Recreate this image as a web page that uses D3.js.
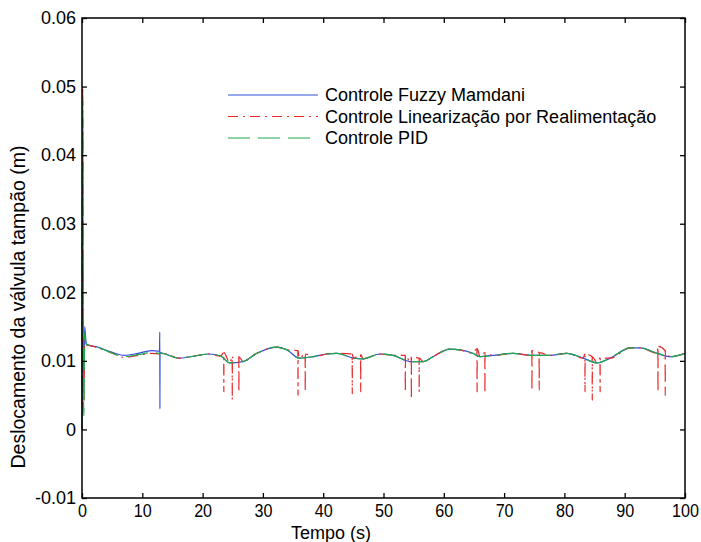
<!DOCTYPE html>
<html>
<head>
<meta charset="utf-8">
<script src="https://cdn.jsdelivr.net/npm/d3@7"></script>
<style>
  body { margin: 0; background: #fff; }
  svg text { font-family: "Liberation Sans", Arial, sans-serif; fill: #000; }
</style>
</head>
<body>
<div id="chart"></div>
<script>
// valores
var tempo = [0, 0.05, 0.12, 0.2, 0.3, 0.45, 0.7, 1, 2.6, 4.8, 7, 9.3, 11.5, 12.85, 13.8, 16, 18, 21, 23, 24.5, 26.7, 29, 32.3, 34, 36, 38.3, 40.6, 42.3, 45, 46.6, 49.4, 51.6, 54.4, 56.6, 58.2, 61, 62.7, 64.8, 66, 68.2, 71.5, 74.5, 77.6, 80.4, 83.1, 85.4, 87.6, 90.9, 92.5, 95.4, 97.5, 100];

var fuzzy = [0, 0.02, 0.045, 0.012, 0.007, 0.015, 0.0125, 0.0123, 0.0120, 0.0113, 0.0108, 0.0111, 0.0115, 0.0114, 0.0110, 0.0104, 0.0106, 0.0110, 0.0107, 0.0097, 0.0099, 0.0111, 0.0120, 0.0116, 0.0104, 0.0106, 0.0110, 0.0111, 0.0104, 0.0103, 0.0110, 0.0108, 0.0099, 0.0099, 0.0106, 0.0117, 0.0116, 0.0111, 0.0106, 0.0108, 0.0111, 0.0108, 0.0108, 0.0111, 0.0104, 0.0097, 0.0104, 0.0119, 0.0119, 0.0111, 0.0106, 0.0111];

var linear = [0, 0.03, 0.05, 0.02, 0.004, 0.013, 0.0122, 0.0123, 0.0119, 0.0112, 0.0105, 0.0108, 0.0111, 0.0110, 0.0110, 0.0104, 0.0106, 0.0110, 0.0107, 0.0097, 0.0099, 0.0111, 0.0120, 0.0116, 0.0104, 0.0106, 0.0110, 0.0111, 0.0104, 0.0103, 0.0110, 0.0108, 0.0099, 0.0099, 0.0106, 0.0117, 0.0116, 0.0111, 0.0106, 0.0108, 0.0111, 0.0108, 0.0108, 0.0111, 0.0104, 0.0097, 0.0104, 0.0119, 0.0119, 0.0111, 0.0106, 0.0111];

var pid = [0, 0.025, 0.048, 0.015, 0.002, 0.014, 0.0124, 0.0123, 0.0120, 0.0112, 0.0106, 0.0109, 0.0112, 0.0111, 0.0110, 0.0104, 0.0106, 0.0110, 0.0107, 0.0097, 0.0099, 0.0111, 0.0120, 0.0116, 0.0104, 0.0106, 0.0110, 0.0111, 0.0104, 0.0103, 0.0110, 0.0108, 0.0099, 0.0099, 0.0106, 0.0117, 0.0116, 0.0111, 0.0106, 0.0108, 0.0111, 0.0108, 0.0108, 0.0111, 0.0104, 0.0097, 0.0104, 0.0119, 0.0119, 0.0111, 0.0106, 0.0111];

// picos (tempo, topo, fundo, retorno)
var fuzzySpikeT = [12.9];
var fuzzySpikeTop = [0.0142];
var fuzzySpikeBottom = [0.003];
var fuzzySpikeEnd = [0.0112];

var linSpikeT = [23.5, 24.9, 26.0, 35.8, 37.0, 44.8, 46.2, 53.6, 54.6, 55.9, 65.5, 66.8, 74.6, 75.8, 83.4, 84.6, 85.9, 95.5, 96.7];
var linSpikeTop = [0.0112, 0.0105, 0.0106, 0.0115, 0.0110, 0.0110, 0.0109, 0.0108, 0.0105, 0.0104, 0.0118, 0.0112, 0.0115, 0.0112, 0.0110, 0.0106, 0.0104, 0.0121, 0.0115];
var linSpikeBottom = [0.0055, 0.0043, 0.0055, 0.0050, 0.0055, 0.0052, 0.0055, 0.0055, 0.0045, 0.0055, 0.0055, 0.0053, 0.0057, 0.0057, 0.0055, 0.0043, 0.0055, 0.0055, 0.0050];

var xTicks = [0, 10, 20, 30, 40, 50, 60, 70, 80, 90, 100];
var yTicks = [-0.01, 0, 0.01, 0.02, 0.03, 0.04, 0.05, 0.06];
var yTickLabels = ["-0.01", "0", "0.01", "0.02", "0.03", "0.04", "0.05", "0.06"];

var legendNames = ["Controle Fuzzy Mamdani", "Controle Linearização por Realimentação", "Controle PID"];

var width = 701, height = 542;
var mLeft = 82, mRight = 685, mTop = 18, mBottom = 498;

var svg = d3.select("#chart").append("svg")
  .attr("width", width)
  .attr("height", height);

var x = d3.scaleLinear().domain([0, 100]).range([mLeft, mRight]);
var y = d3.scaleLinear().domain([-0.01, 0.06]).range([mBottom, mTop]);

function withSpikes(vals, st, stop, sbot, send) {
  var pts = tempo.map(function(t, i) { return [t, vals[i]]; });
  st.forEach(function(t, i) {
    pts.push([t, stop[i]]);
    pts.push([t + 0.02, sbot[i]]);
    pts.push([t + 0.04, send ? send[i] : stop[i]]);
  });
  pts.sort(function(a, b) { return a[0] - b[0]; });
  return pts;
}

var line = d3.line()
  .x(function(d) { return x(d[0]); })
  .y(function(d) { return y(d[1]); })
  .curve(d3.curveMonotoneX);

var series = [
  { pts: withSpikes(fuzzy, fuzzySpikeT, fuzzySpikeTop, fuzzySpikeBottom, fuzzySpikeEnd), color: "#3552dc", dash: null },
  { pts: withSpikes(linear, linSpikeT, linSpikeTop, linSpikeBottom), color: "#ea2a2a", dash: "10,5,2,5" },
  { pts: withSpikes(pid, [], [], []), color: "#1fa84a", dash: "22,8" }
];

var plot = svg.append("g");
series.forEach(function(s) {
  plot.append("path")
    .attr("d", line(s.pts))
    .attr("fill", "none")
    .attr("stroke", s.color)
    .attr("stroke-width", 1.2)
    .attr("stroke-dasharray", s.dash);
});

// eixos
var gx = svg.append("g")
  .attr("transform", "translate(0," + mBottom + ")")
  .call(d3.axisBottom(x).tickValues(xTicks).tickSize(-5).tickPadding(6));
var gxt = svg.append("g")
  .attr("transform", "translate(0," + mTop + ")")
  .call(d3.axisTop(x).tickValues(xTicks).tickSize(-5).tickFormat(""));
var gy = svg.append("g")
  .attr("transform", "translate(" + mLeft + ",0)")
  .call(d3.axisLeft(y).tickValues(yTicks).tickSize(-5).tickPadding(6)
    .tickFormat(function(d, i) { return yTickLabels[i]; }));
var gyr = svg.append("g")
  .attr("transform", "translate(" + mRight + ",0)")
  .call(d3.axisRight(y).tickValues(yTicks).tickSize(-5).tickFormat(""));

[gx, gxt, gy, gyr].forEach(function(g) {
  g.attr("font-family", null).attr("font-size", null);
  g.select(".domain").remove();
  g.selectAll(".tick line").attr("stroke", "#000").attr("stroke-width", 1.3);
});
gx.selectAll("text")
  .attr("font-size", 19)
  .attr("transform", "scale(0.85,1)");
gy.selectAll("text").attr("font-size", 18);

svg.append("rect")
  .attr("x", mLeft).attr("y", mTop)
  .attr("width", mRight - mLeft).attr("height", mBottom - mTop)
  .attr("fill", "none").attr("stroke", "#000").attr("stroke-width", 1.5);

svg.append("text")
  .attr("x", 331).attr("y", 539)
  .attr("text-anchor", "middle")
  .attr("font-size", 18)
  .text("Tempo (s)");

svg.append("text")
  .attr("transform", "translate(25,307) rotate(-90)")
  .attr("text-anchor", "middle")
  .attr("font-size", 19.5)
  .text("Deslocamento da válvula tampão (m)");

// legenda
var leg = svg.append("g");
series.forEach(function(s, i) {
  var ly = 95 + i * 21.5;
  leg.append("line")
    .attr("x1", 228).attr("x2", 318)
    .attr("y1", ly).attr("y2", ly)
    .attr("stroke", s.color)
    .attr("stroke-width", 1.2)
    .attr("stroke-dasharray", s.dash);
  leg.append("text")
    .attr("x", 325).attr("y", ly + 6)
    .attr("font-size", 18)
    .text(legendNames[i]);
});
</script>
</body>
</html>
